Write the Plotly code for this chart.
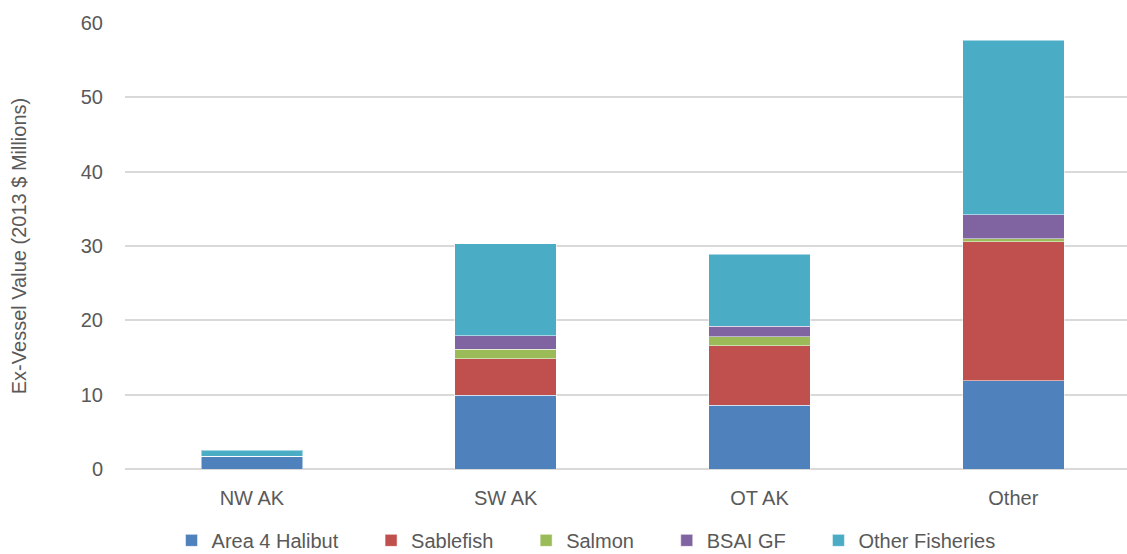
import plotly.graph_objects as go

# regions along the x axis
regions = ["NW AK", "SW AK", "OT AK", "Other"]

# ex-vessel value by fishery, 2013 $ millions
halibut = [1.7, 9.9, 8.6, 11.9]
sablefish = [0.0, 4.9, 8.0, 18.7]
salmon = [0.0, 1.3, 1.2, 0.4]
bsai_gf = [0.0, 1.8, 1.4, 3.2]
other_fisheries = [0.8, 12.4, 9.7, 23.5]

series = [
    ("Area 4 Halibut", halibut, "#4F81BD"),
    ("Sablefish", sablefish, "#C0504D"),
    ("Salmon", salmon, "#9BBB59"),
    ("BSAI GF", bsai_gf, "#8064A2"),
    ("Other Fisheries", other_fisheries, "#4BACC6"),
]

FONT = "Liberation Sans, Arial, sans-serif"
GREY = "#595959"
PAD = "\u00a0" * 5  # extra room between legend entries

fig = go.Figure()
for i, (name, vals, color) in enumerate(series):
    fig.add_trace(go.Bar(
        x=regions,
        y=vals,
        name=name + (PAD if i < len(series) - 1 else ""),
        marker=dict(color=color, line=dict(color="rgba(255,255,255,0.5)", width=1)),
    ))

fig.update_layout(
    barmode="stack",
    bargap=0.6,
    width=1127,
    height=554,
    margin=dict(l=125, r=0, t=23, b=85, autoexpand=False),
    plot_bgcolor="white",
    paper_bgcolor="white",
    font=dict(family=FONT, size=20, color=GREY),
    legend=dict(
        orientation="h",
        traceorder="normal",
        xref="container",
        yref="paper",
        x=0.52,
        xanchor="center",
        y=-0.16,
        yanchor="middle",
        itemwidth=30,
        font=dict(size=20, color=GREY),
    ),
    xaxis=dict(
        range=[-0.5, 3.448],
        showgrid=False,
        showline=False,
        ticks="",
        ticklabelstandoff=15,
        automargin=False,
    ),
    yaxis=dict(
        title=dict(text="Ex-Vessel Value (2013 $ Millions)", standoff=48,
                   font=dict(size=20, color=GREY)),
        range=[0, 60],
        dtick=10,
        showgrid=True,
        gridcolor="#D9D9D9",
        gridwidth=1.5,
        zeroline=True,
        zerolinecolor="#D9D9D9",
        zerolinewidth=2,
        ticks="",
        ticklabelstandoff=21,
        automargin=False,
    ),
)

# drop the default page margin so the figure sits flush in the window
fig.write_html("out.html", config={"displayModeBar": False},
               post_script="document.body.style.margin='0';")
